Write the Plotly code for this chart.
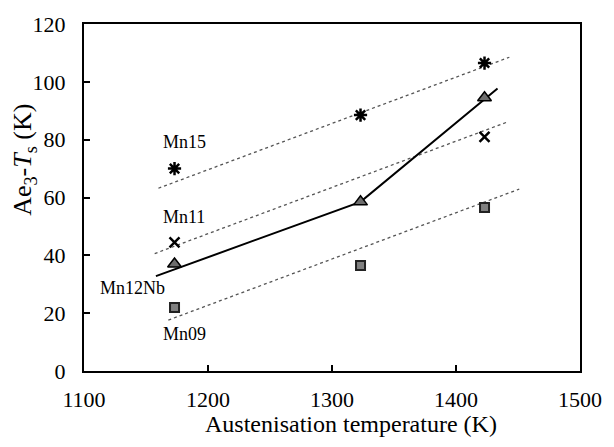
import plotly.graph_objects as go

# Data
temps3 = [1173, 1323, 1423]
temps2 = [1173, 1423]
mn15 = [70, 88.5, 106.5]
mn11 = [44.5, 81]
mn12nb = [37, 58.5, 94.5]
mn09 = [22, 36.5, 56.5]

# Trend lines
mn15_fit_x = [1160, 1443]
mn15_fit_y = [63.2, 108.5]
mn11_fit_x = [1157, 1442]
mn11_fit_y = [40.6, 86.2]
mn09_fit_x = [1168, 1451]
mn09_fit_y = [17.6, 62.9]
mn12nb_fit_x = [1158, 1323, 1433.5]
mn12nb_fit_y = [32.8, 58.5, 97.7]

labels = ["Mn15", "Mn11", "Mn12Nb", "Mn09"]
label_x = [1181, 1181, 1139, 1181]
label_y = [79.2, 53.3, 28.6, 12.8]

FONT = "Liberation Serif"

fig = go.Figure()
dot = dict(color="#555", width=1.3, dash="dot")
for fx, fy in [(mn15_fit_x, mn15_fit_y), (mn11_fit_x, mn11_fit_y), (mn09_fit_x, mn09_fit_y)]:
    fig.add_trace(go.Scatter(x=fx, y=fy, mode="lines", line=dot, showlegend=False, hoverinfo="skip"))
fig.add_trace(go.Scatter(x=mn12nb_fit_x, y=mn12nb_fit_y, mode="lines",
                         line=dict(color="black", width=2), showlegend=False, hoverinfo="skip"))

fig.add_trace(go.Scatter(x=temps3, y=mn15, mode="markers", name="Mn15",
                         marker=dict(symbol="asterisk-open", size=11, color="black",
                                     line=dict(color="black", width=2.5))))
fig.add_trace(go.Scatter(x=temps2, y=mn11, mode="markers", name="Mn11",
                         marker=dict(symbol="x-thin-open", size=10, color="black",
                                     line=dict(color="black", width=2.5))))
fig.add_trace(go.Scatter(x=temps3, y=mn12nb, mode="markers", name="Mn12Nb",
                         marker=dict(symbol="triangle-up", size=12, color="#6e6e6e",
                                     line=dict(color="black", width=1.5))))
fig.add_trace(go.Scatter(x=temps3, y=mn09, mode="markers", name="Mn09",
                         marker=dict(symbol="square", size=9, color="#808080",
                                     line=dict(color="#222", width=2))))

for t, x, y in zip(labels, label_x, label_y):
    fig.add_annotation(x=x, y=y, text=t, showarrow=False, font=dict(family=FONT, size=18, color="black"))

fig.add_annotation(xref="paper", yref="paper", x=0.538, y=-0.152, text="Austenisation temperature (K)",
                   showarrow=False, yanchor="middle", font=dict(family=FONT, size=24, color="black"))
fig.add_annotation(xref="paper", yref="paper", x=-0.12, y=0.61, textangle=-90,
                   text="Ae<sub>3</sub>-<i>T</i><sub>s</sub> (K)", showarrow=False, xanchor="center",
                   font=dict(family=FONT, size=26, color="black"))

axis_common = dict(showgrid=False, zeroline=False, showline=True, linecolor="black", linewidth=2,
                   mirror=True, ticks="inside", ticklen=6, tickwidth=1.5, tickcolor="black",
                   tickfont=dict(family=FONT, size=22, color="black"))
fig.update_xaxes(range=[1100, 1500], tickvals=[1100, 1200, 1300, 1400, 1500], ticklabelstandoff=8, **axis_common)
fig.update_yaxes(range=[0, 120], tickvals=[0, 20, 40, 60, 80, 100, 120], ticklabelstandoff=12, **axis_common)

fig.update_layout(width=614, height=447, margin=dict(l=84, r=25, t=16, b=76),
                  plot_bgcolor="white", paper_bgcolor="white", showlegend=False,
                  font=dict(family=FONT, color="black"))

fig.write_html("out.html")
